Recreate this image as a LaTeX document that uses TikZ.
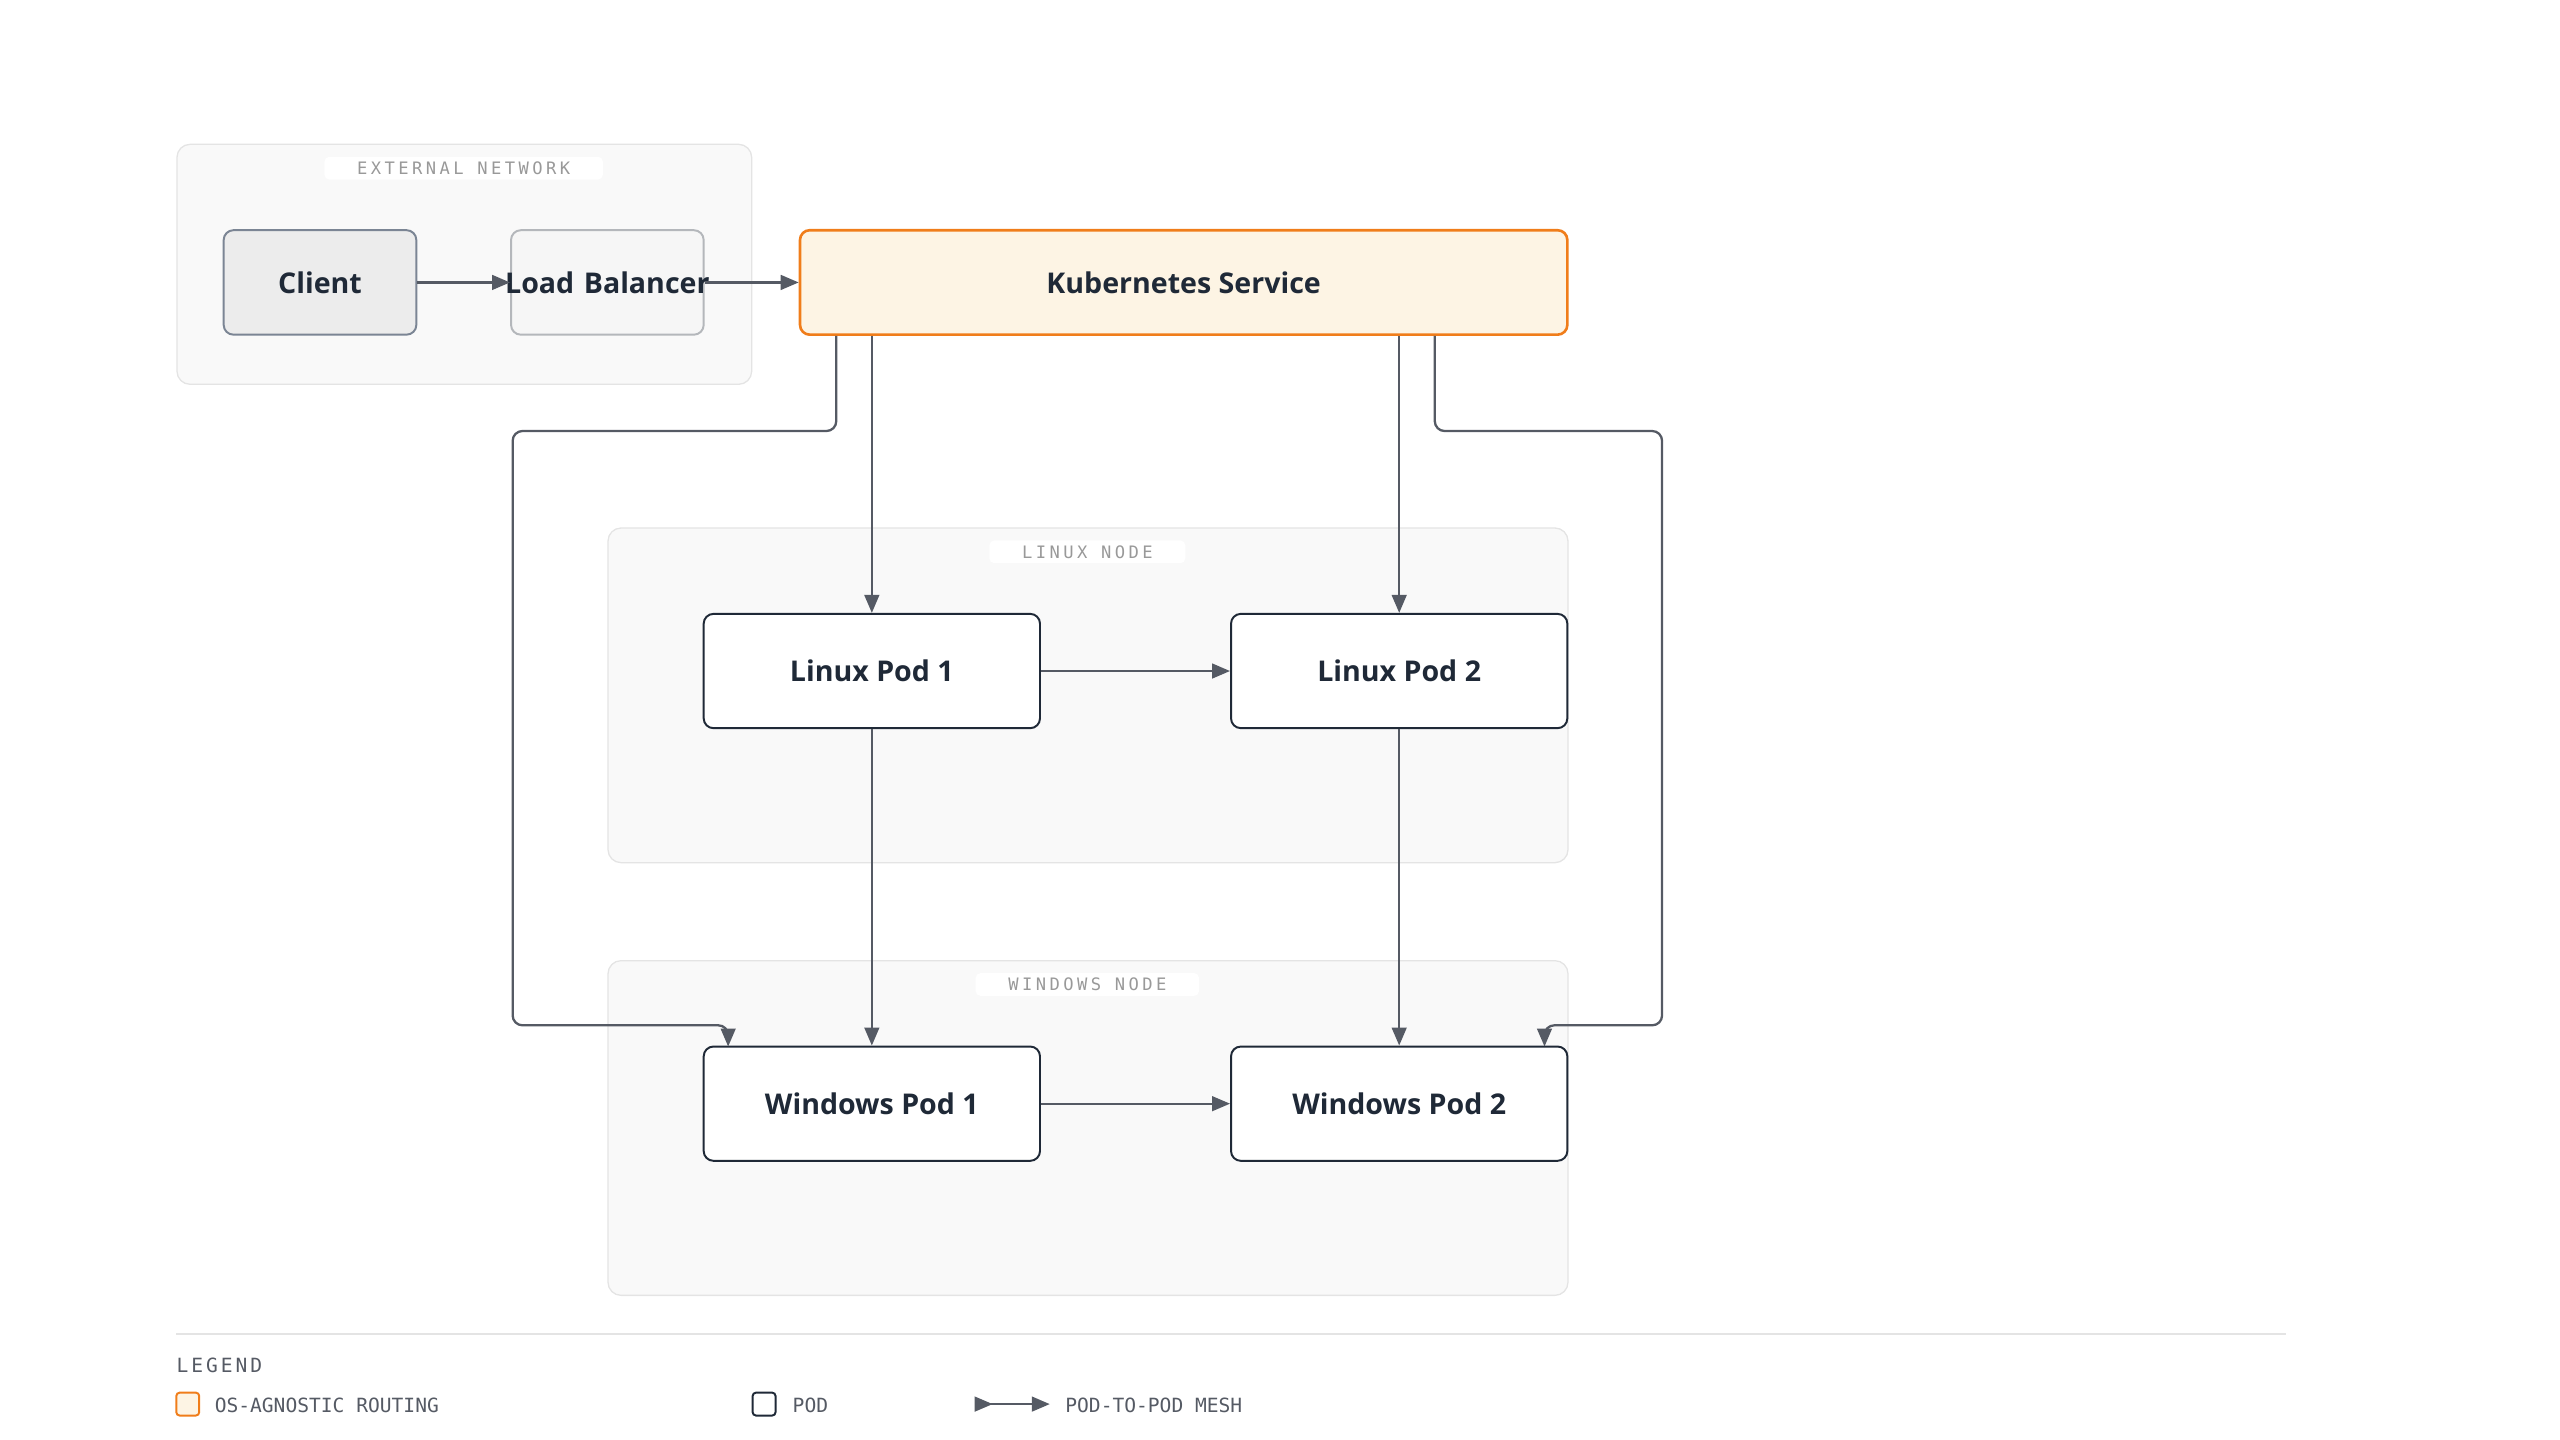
\documentclass[tikz,border=0pt]{standalone}
\usepackage{fontspec}
\setmainfont{Open Sans}
\newfontfamily\monof{DejaVu Sans Mono}
\usetikzlibrary{arrows.meta}
\definecolor{arr}{HTML}{555A64}
\definecolor{grpfill}{HTML}{F9F9F9}
\definecolor{grpline}{HTML}{E4E4E4}
\definecolor{ks}{HTML}{FDF4E4}
\definecolor{ksl}{HTML}{F07D1A}
\definecolor{dark}{HTML}{1F2937}
\definecolor{clfill}{HTML}{ECECEC}
\definecolor{clline}{HTML}{7B8594}
\definecolor{lbfill}{HTML}{F6F6F6}
\definecolor{lbline}{HTML}{B4B7BB}
\begin{document}
\begin{tikzpicture}[x=1pt,y=-1pt,
 grp/.style={draw=grpline,fill=grpfill,rounded corners=8pt,line width=0.8pt},
 glab/.style={fill=white,rounded corners=3pt,font=\monof\fontsize{10.5}{12}\selectfont\addfontfeatures{LetterSpace=20},text=gray!80,inner xsep=20pt,inner ysep=3pt},
 pod/.style={draw=dark,fill=white,rounded corners=6pt,line width=1.2pt,font=\bfseries\fontsize{17.5}{22}\selectfont,text=dark,inner sep=0pt},
 con/.style={draw=arr,line width=1.4pt,-{Triangle[length=11pt,width=9pt]},rounded corners=6pt},
 leg/.style={font=\monof\fontsize{12}{14}\selectfont,text=arr,anchor=west}]
\useasboundingbox (0,0) rectangle (1568,882);
\node[grp,minimum width=352pt,minimum height=147pt,anchor=north west] (ext) at (108,88) {};
\node[glab] (extl) at (284,103) {EXTERNAL NETWORK};
\node[grp,minimum width=588pt,minimum height=205pt,anchor=north west] (lin) at (372,323) {};
\node[glab] (linl) at (666,338) {LINUX NODE};
\node[grp,minimum width=588pt,minimum height=205pt,anchor=north west] (win) at (372,588) {};
\node[glab] (winl) at (666,603) {WINDOWS NODE};
\node[pod,fill=clfill,draw=clline,minimum width=118pt,minimum height=64pt] (cl) at (196,173) {Client};
\node[pod,fill=lbfill,draw=lbline,minimum width=118pt,minimum height=64pt,text width=118pt,align=center] (lb) at (372,173) {\makebox[0pt]{Load Balancer}};
\node[pod,fill=ks,draw=ksl,line width=1.6pt,minimum width=470pt,minimum height=64pt] (ks) at (725,173) {Kubernetes Service};
\node[pod,minimum width=206pt,minimum height=70pt] (lp1) at (534,411) {Linux Pod 1};
\node[pod,minimum width=206pt,minimum height=70pt] (lp2) at (857,411) {Linux Pod 2};
\node[pod,minimum width=206pt,minimum height=70pt] (wp1) at (534,676) {Windows Pod 1};
\node[pod,minimum width=206pt,minimum height=70pt] (wp2) at (857,676) {Windows Pod 2};
\draw[con] (cl) -- (lb);
\draw[con] (lb) -- (ks);
\draw[con] (ks.south -| lp1) -- (lp1);
\draw[con] (ks.south -| lp2) -- (lp2);
\draw[con] (ks.south west) ++(23,0) |- (314,264) |- (446,628) -- (446,641);
\draw[con] (ks.south east) ++(-82,0) |- (1018,264) |- (946,628) -- (946,641);
\draw[con] (lp1) -- (lp2);
\draw[con] (wp1) -- (wp2);
\draw[con] (lp1) -- (wp1);
\draw[con] (lp2) -- (wp2);
\draw[grpline,line width=1pt] (108,817) coordinate (l1) -- (1400,817) coordinate (l2);
\node[leg,inner sep=0pt,font=\monof\fontsize{12}{14}\selectfont\addfontfeatures{LetterSpace=15}] (lg) at (108,836) {LEGEND};
\node[draw=ksl,fill=ks,rounded corners=2pt,line width=1.2pt,minimum size=14pt,inner sep=0pt] (s1) at (115,860) {};
\node[leg] (t1) at (128,861) {OS-AGNOSTIC ROUTING};
\node[draw=dark,fill=white,rounded corners=2pt,line width=1.2pt,minimum size=14pt,inner sep=0pt] (s2) at (468,860) {};
\node[leg] (t2) at (482,861) {POD};
\coordinate (a1) at (597,860); \coordinate (a2) at (643,860);
\draw[con,{Triangle[reversed,length=11pt,width=9pt]}-{Triangle[length=11pt,width=9pt]}] (a1) -- (a2);
\node[leg] (t3) at (649,861) {POD-TO-POD MESH};
\end{tikzpicture}
\end{document}
